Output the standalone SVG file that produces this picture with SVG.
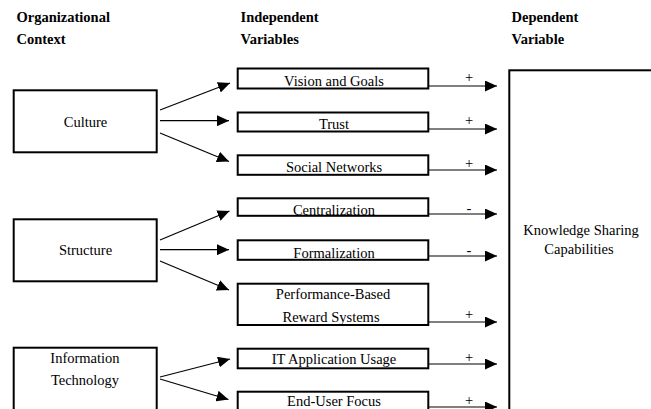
<svg xmlns="http://www.w3.org/2000/svg" width="651" height="409" viewBox="0 0 651 409">
<defs>
<marker id="ah" markerUnits="userSpaceOnUse" markerWidth="12" markerHeight="11" refX="12" refY="5.5" orient="auto">
<path d="M0,0 L12,5.5 L0,11 z" fill="#000"/>
</marker>
<style>
.box{fill:#fff;stroke:#000;stroke-width:2}
.t{font-size:14.5px;fill:#000;text-anchor:middle}
.h{font-size:14.5px;font-weight:bold;fill:#000}
.c{stroke:#000;stroke-width:1.2;fill:none;marker-end:url(#ah)}
.s{font-size:14.5px;fill:#000;text-anchor:middle}
</style>
</defs>
<rect width="651" height="409" fill="#fff"/>
<g font-family="Liberation Serif, Times New Roman, DejaVu Serif, serif">
<g id="headers">
<text class="h" x="16.5" y="22">Organizational</text>
<text class="h" x="16.5" y="43.5">Context</text>
<text class="h" x="240.5" y="22">Independent</text>
<text class="h" x="240.5" y="43.5">Variables</text>
<text class="h" x="511.5" y="22">Dependent</text>
<text class="h" x="511.5" y="43.5">Variable</text>
</g>
<g id="culture"><rect class="box" x="13.7" y="90.3" width="143" height="62"/><text class="t" x="85.5" y="127">Culture</text></g>
<g id="structure"><rect class="box" x="13.7" y="219.3" width="143" height="62"/><text class="t" x="85.5" y="255">Structure</text></g>
<g id="infotech"><rect class="box" x="13.7" y="347.7" width="143" height="80"/><text class="t" x="85" y="363">Information</text><text class="t" x="85" y="385">Technology</text></g>
<g id="vision"><rect class="box" x="237.7" y="68.5" width="190.6" height="20"/><text class="t" x="334" y="85.5">Vision and Goals</text></g>
<g id="trust"><rect class="box" x="237.7" y="112.5" width="190.6" height="19"/><text class="t" x="334" y="128.5">Trust</text></g>
<g id="social"><rect class="box" x="237.7" y="155.3" width="190.6" height="19.5"/><text class="t" x="334" y="171.5">Social Networks</text></g>
<g id="centralization"><rect class="box" x="237.7" y="198.3" width="190.6" height="17.5"/><text class="t" x="334" y="214.5">Centralization</text></g>
<g id="formalization"><rect class="box" x="237.7" y="240.3" width="190.6" height="19.5"/><text class="t" x="334" y="258">Formalization</text></g>
<g id="performance"><rect class="box" x="237.7" y="283.7" width="190.6" height="41.3"/><text class="t" x="333" y="299">Performance-Based</text><text class="t" x="331" y="321.5">Reward Systems</text></g>
<g id="itusage"><rect class="box" x="237.7" y="348.7" width="190.6" height="19.6"/><text class="t" x="334" y="364">IT Application Usage</text></g>
<g id="enduser"><rect class="box" x="237.7" y="391.7" width="190.6" height="30"/><text class="t" x="334" y="406">End-User Focus</text></g>
<g id="ksc"><rect class="box" x="509.3" y="70.3" width="160" height="360"/><text class="t" x="581" y="235">Knowledge Sharing</text><text class="t" x="579" y="254">Capabilities</text></g>
<g id="connectors">
<line class="c" x1="160" y1="110" x2="230" y2="83"/>
<line class="c" x1="160" y1="120.7" x2="229" y2="120.7"/>
<line class="c" x1="160" y1="133" x2="229" y2="161.5"/>
<line class="c" x1="160" y1="240" x2="229.5" y2="211"/>
<line class="c" x1="160" y1="249.7" x2="229" y2="249.7"/>
<line class="c" x1="160" y1="261" x2="229" y2="290"/>
<line class="c" x1="160" y1="377" x2="230" y2="359"/>
<line class="c" x1="160" y1="379" x2="228.5" y2="399.5"/>
<line class="c" x1="429" y1="86" x2="497" y2="86"/>
<line class="c" x1="429" y1="129" x2="497" y2="129"/>
<line class="c" x1="429" y1="170" x2="497" y2="170"/>
<line class="c" x1="429" y1="214" x2="497" y2="214"/>
<line class="c" x1="429" y1="256" x2="497" y2="256"/>
<line class="c" x1="429" y1="322" x2="497" y2="322"/>
<line class="c" x1="429" y1="364" x2="497" y2="364"/>
<line class="c" x1="429" y1="407" x2="497" y2="407"/>
<text class="s" x="469" y="82">+</text>
<text class="s" x="469" y="125">+</text>
<text class="s" x="469" y="168">+</text>
<text class="s" x="469" y="212.5">-</text>
<text class="s" x="469" y="254.5">-</text>
<text class="s" x="469" y="319">+</text>
<text class="s" x="469" y="362">+</text>
<text class="s" x="469" y="405">+</text>
</g>
</g>
</svg>
